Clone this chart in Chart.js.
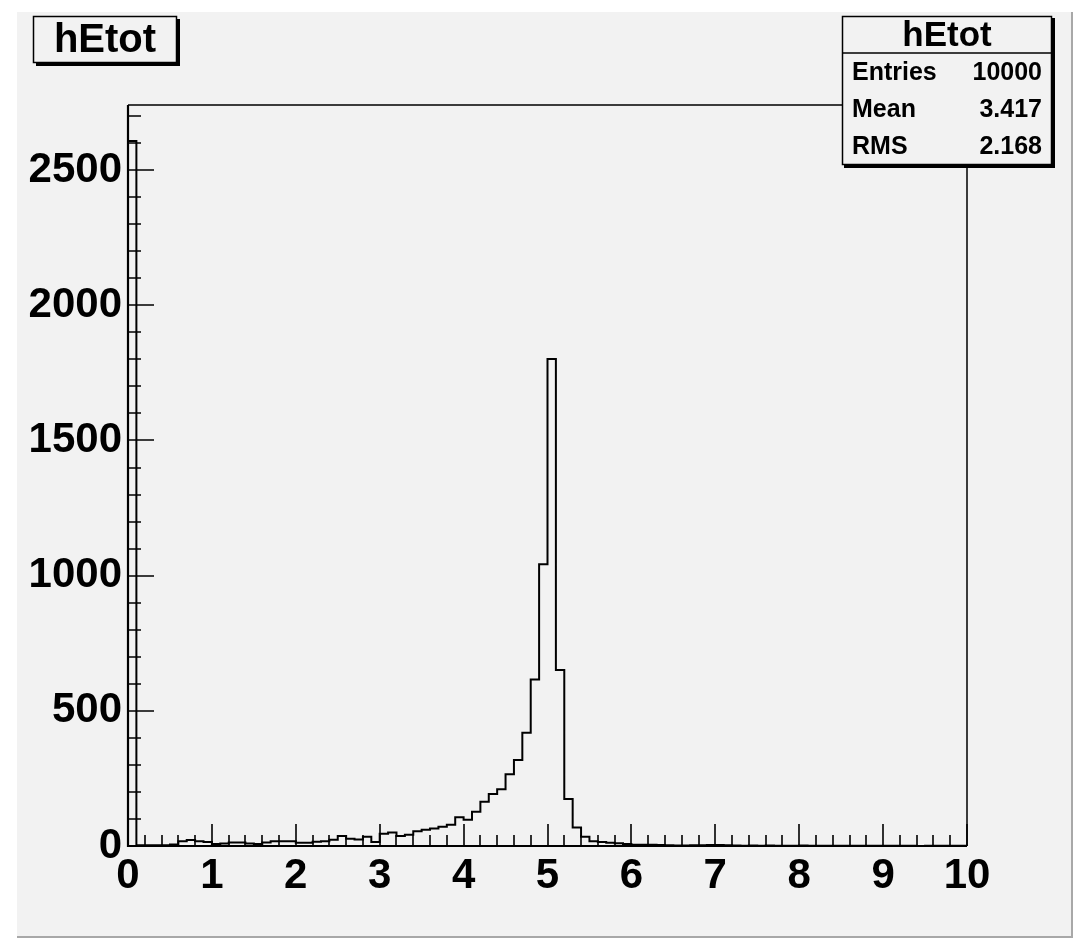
<!DOCTYPE html>
<html>
<head>
<meta charset="utf-8">
<title>hEtot</title>
<script src="https://cdn.jsdelivr.net/npm/chart.js@4.4.1/dist/chart.umd.min.js"></script>
<style>
  html, body { margin: 0; padding: 0; background: #ffffff; }
  canvas { display: block; }
</style>
</head>
<body>
<canvas id="hist" width="1090" height="943"></canvas>
<script>
// histogram binning: 100 bins from 0 to 10
const binLow = 0;
const binHigh = 10;
const nBins = 100;

// bin contents, left to right
const counts = [
  2608, 3, 3, 3, 3, 6, 18, 22, 18, 15,
  7, 9, 13, 13, 9, 7, 13, 18, 18, 18,
  12, 12, 16, 18, 23, 37, 27, 24, 34, 15,
  45, 50, 37, 42, 55, 60, 65, 71, 79, 106,
  97, 127, 164, 192, 210, 265, 318, 419, 616, 1042,
  1801, 651, 174, 68, 34, 18, 15, 12, 10, 7,
  5, 5, 5, 4, 3, 2, 2, 3, 3, 4,
  4, 3, 2, 1, 2, 1, 2, 1, 1, 1,
  2, 1, 1, 1, 1, 1, 1, 1, 1, 1,
  1, 1, 1, 1, 0, 1, 1, 1, 1, 1
];

const yMax = 2741;
const xTicks = [0, 1, 2, 3, 4, 5, 6, 7, 8, 9, 10];
const yTicks = [0, 500, 1000, 1500, 2000, 2500];
const xMinorStep = 0.2;
const yMinorStep = 100;

const histTitle = "hEtot";
const statLabels = ["Entries", "Mean", "RMS"];
const statValues = ["10000", "3.417", "2.168"];

const FONT = '"Liberation Sans", Arial, Helvetica, sans-serif';

// step outline of the histogram
const binWidth = (binHigh - binLow) / nBins;
const points = [{ x: binLow, y: 0 }];
counts.forEach((c, i) => points.push({ x: binLow + i * binWidth, y: c }));
points.push({ x: binHigh, y: counts[counts.length - 1] });
points.push({ x: binHigh, y: 0 });

function stepValues(min, max, step) {
  const out = [];
  const n = Math.floor((max - min) / step + 1e-6);
  for (let i = 0; i <= n; i++) out.push(min + i * step);
  return out;
}

function isMajor(v, majors) {
  return majors.some(m => Math.abs(m - v) < 1e-6);
}

const rootLook = {
  id: "rootLook",
  beforeDraw(chart) {
    const ctx = chart.ctx;
    ctx.save();
    ctx.fillStyle = "#ffffff";
    ctx.fillRect(0, 0, chart.width, chart.height);
    ctx.fillStyle = "#f2f2f2";
    ctx.fillRect(17, 12, 1056, 926);
    ctx.fillStyle = "#a8a8a8";
    ctx.fillRect(17, 936, 1056, 2);
    ctx.fillRect(1071, 12, 2, 926);
    ctx.restore();
  },
  afterDatasetsDraw(chart) {
    const ctx = chart.ctx;
    const a = chart.chartArea;
    const xs = chart.scales.x;
    const ys = chart.scales.y;
    ctx.save();
    ctx.strokeStyle = "#000000";

    // frame
    ctx.lineWidth = 1.5;
    ctx.beginPath();
    ctx.moveTo(a.left, a.top); ctx.lineTo(a.right, a.top); ctx.lineTo(a.right, a.bottom);
    ctx.stroke();
    ctx.lineWidth = 2.2;
    ctx.beginPath();
    ctx.moveTo(a.left, a.top); ctx.lineTo(a.left, a.bottom); ctx.lineTo(a.right, a.bottom);
    ctx.stroke();

    // ticks drawn inside the frame, ROOT style
    ctx.lineWidth = 1.6;
    ctx.beginPath();
    stepValues(xs.min, xs.max, xMinorStep).forEach(v => {
      const px = Math.round(xs.getPixelForValue(v));
      ctx.moveTo(px, a.bottom);
      ctx.lineTo(px, a.bottom - (isMajor(v, xTicks) ? 22 : 11));
    });
    stepValues(ys.min, ys.max, yMinorStep).forEach(v => {
      const py = Math.round(ys.getPixelForValue(v));
      ctx.moveTo(a.left, py);
      ctx.lineTo(a.left + (isMajor(v, yTicks) ? 26 : 13), py);
    });
    ctx.stroke();
    ctx.restore();
  },
  afterDraw(chart) {
    const ctx = chart.ctx;
    ctx.save();

    // title box
    ctx.fillStyle = "#000000";
    ctx.fillRect(36, 19, 144, 47);
    ctx.fillStyle = "#f2f2f2";
    ctx.fillRect(33, 16, 144, 47);
    ctx.strokeStyle = "#000000";
    ctx.lineWidth = 1.5;
    ctx.strokeRect(33.5, 16.5, 143, 46);
    ctx.fillStyle = "#000000";
    ctx.font = "bold 40px " + FONT;
    ctx.textAlign = "center";
    ctx.textBaseline = "middle";
    ctx.fillText(histTitle, 105, 41);

    // stats box
    const bx = 842, by = 16, bw = 210, bh = 149;
    ctx.fillStyle = "#000000";
    ctx.fillRect(bx + 2, by + 2, bw + 1, bh + 1);
    ctx.fillStyle = "#f2f2f2";
    ctx.fillRect(bx, by, bw, bh);
    ctx.strokeRect(bx + 0.5, by + 0.5, bw - 1, bh - 1);
    ctx.beginPath();
    ctx.moveTo(bx, 53); ctx.lineTo(bx + bw, 53);
    ctx.stroke();
    ctx.fillStyle = "#000000";
    ctx.font = "bold 35px " + FONT;
    ctx.textAlign = "center";
    ctx.fillText(histTitle, bx + bw / 2, 36);
    ctx.font = "bold 25px " + FONT;
    const rowY = [73, 110, 147];
    statLabels.forEach((lab, i) => {
      ctx.textAlign = "left";
      ctx.fillText(lab, 852, rowY[i]);
      ctx.textAlign = "right";
      ctx.fillText(statValues[i], 1042, rowY[i]);
    });
    ctx.restore();
  }
};

const tickFont = { family: FONT, size: 42, weight: "bold" };

new Chart(document.getElementById("hist"), {
  type: "line",
  data: {
    datasets: [{
      label: histTitle,
      data: points,
      stepped: "before",
      borderColor: "#000000",
      borderWidth: 2,
      pointRadius: 0,
      fill: false
    }]
  },
  options: {
    responsive: false,
    animation: false,
    layout: { padding: { left: 0, top: 105, right: 123, bottom: 0 } },
    plugins: { legend: { display: false }, tooltip: { enabled: false } },
    scales: {
      x: {
        type: "linear",
        min: binLow,
        max: binHigh,
        afterBuildTicks(s) { s.ticks = xTicks.map(v => ({ value: v })); },
        afterFit(s) { s.height = 97; },
        grid: { display: false, drawTicks: false },
        border: { display: false },
        ticks: {
          autoSkip: false,
          maxRotation: 0,
          padding: 5,
          color: "#000000",
          font: tickFont,
          callback: v => String(v)
        }
      },
      y: {
        type: "linear",
        min: 0,
        max: yMax,
        afterBuildTicks(s) { s.ticks = yTicks.map(v => ({ value: v })); },
        afterFit(s) { s.width = 128; },
        grid: { display: false, drawTicks: false },
        border: { display: false },
        ticks: {
          autoSkip: false,
          padding: 6,
          color: "#000000",
          font: tickFont,
          callback: v => String(v)
        }
      }
    }
  },
  plugins: [rootLook]
});
</script>
</body>
</html>
